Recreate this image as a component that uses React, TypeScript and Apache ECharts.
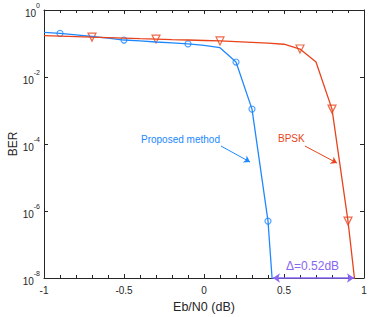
import React, { useEffect, useRef } from "react";
import * as echarts from "echarts";

const ebn0 = [-1, -0.9, -0.8, -0.7, -0.6, -0.5, -0.4, -0.3, -0.2, -0.1, 0, 0.1, 0.2, 0.3, 0.4, 0.5, 0.6, 0.7, 0.8, 0.9, 1.0];
const proposedBer = [0.215, 0.2, 0.182, 0.162, 0.144, 0.127, 0.119, 0.111, 0.104, 0.097, 0.088, 0.075, 0.028, 1.1e-3, 5e-7, 1e-13];
const bpskBer = [0.171, 0.166, 0.161, 0.155, 0.15, 0.145, 0.14, 0.136, 0.131, 0.127, 0.123, 0.119, 0.114, 0.108, 0.102, 0.095, 0.0685, 0.028, 1.1e-3, 5e-7, 3e-11];
const proposedMarkers = [-0.9, -0.5, -0.1, 0.2, 0.3, 0.4];
const bpskMarkers = [-0.7, -0.3, 0.1, 0.6, 0.8, 0.9];
const xTicks = [-1, -0.5, 0, 0.5, 1];
const deltaLabel = "Δ=0.52dB";
const gapStart = 0.431;
const gapEnd = 0.9375;

const BLUE = "#2088ff";
const RED = "#e8431c";
const PURPLE = "#8866f2";
const AX = "#262626";
const FONT = "Liberation Sans, Arial, sans-serif";

function pairs(xs: number[], ys: number[]) {
  return ys.map((y, i) => [xs[i], y]);
}
function markerPts(xs: number[], ys: number[], sel: number[]) {
  return xs
    .map((x, i) => [x, ys[i]])
    .filter((p) => p[1] !== undefined && sel.some((s) => Math.abs(s - p[0]) < 1e-9));
}
function expOf(v: number) {
  const e = Math.round(Math.log10(Number(v)));
  return e === 0 ? "0" : String(e);
}
const richStyles = {
  b: { fontSize: 10, fontFamily: FONT, color: AX, lineHeight: 12, padding: [6, 0, 0, 0] },
  s: { fontSize: 7, fontFamily: FONT, color: AX, lineHeight: 8, padding: [0, 0, 10, 0] },
};

export default function App() {
  const ref = useRef<HTMLDivElement>(null);
  useEffect(() => {
    const chart = echarts.init(ref.current!, null, { renderer: "svg" });
    const xBase = {
      type: "value" as const,
      min: -1,
      max: 1,
      interval: 0.5,
      axisLine: { show: true, onZero: false, lineStyle: { color: AX, width: 1 } },
      axisTick: { show: true, inside: true, length: 4, lineStyle: { color: AX } },
      minorTick: { show: true, splitNumber: 5, length: 3, lineStyle: { color: AX } },
      splitLine: { show: false },
    };
    const yBase = {
      type: "log" as const,
      logBase: 10,
      min: 1e-8,
      max: 1,
      interval: 2,
      axisLine: { show: true, onZero: false, lineStyle: { color: AX, width: 1 } },
      axisTick: { show: true, inside: true, length: 4, lineStyle: { color: AX } },
      minorTick: { show: false },
      splitLine: { show: false },
    };
    chart.setOption({
      animation: false,
      backgroundColor: "#ffffff",
      grid: { left: 44, right: 10, top: 10, bottom: 39, outerBoundsMode: "none", containLabel: false },
      xAxis: [
        {
          ...xBase,
          position: "bottom",
          name: "Eb/N0 (dB)",
          nameLocation: "middle",
          nameGap: 22,
          nameMoveOverlap: false,
          nameTextStyle: { color: AX, fontSize: 12.5, fontFamily: FONT },
          axisLabel: {
            color: AX,
            fontSize: 10,
            fontFamily: FONT,
            margin: 7,
            formatter: (v: number) => (xTicks.some((t) => Math.abs(t - v) < 1e-9) ? String(v) : ""),
          },
        },
        { ...xBase, position: "top", axisLabel: { show: false } },
      ],
      yAxis: [
        {
          ...yBase,
          position: "left",
          name: "BER",
          nameLocation: "middle",
          nameGap: 25,
          nameMoveOverlap: false,
          nameTextStyle: { color: AX, fontSize: 12, fontFamily: FONT },
          axisLabel: {
            color: AX,
            fontSize: 10,
            fontFamily: FONT,
            margin: 4,
            showMaxLabel: true,
            showMinLabel: true,
            formatter: (v: number) => `{b|10}{s|${expOf(v)}}\u200B`,
            rich: richStyles,
          },
        },
        { ...yBase, position: "right", axisLabel: { show: false } },
      ],
      series: [
        {
          type: "line",
          name: "Proposed method",
          data: pairs(ebn0, proposedBer),
          showSymbol: false,
          lineStyle: { color: BLUE, width: 1.3 },
          clip: true,
          silent: true,
          markLine: {
            silent: true,
            symbol: ["none", "arrow"],
            symbolSize: 6,
            label: { show: false },
            lineStyle: { color: BLUE, width: 1, type: "solid" },
            data: [[{ coord: [0.106, 8.7e-5] }, { coord: [0.2875, 2.9e-5] }]],
          },
        },
        {
          type: "scatter",
          data: markerPts(ebn0, proposedBer, proposedMarkers),
          symbol: "circle",
          symbolSize: 6,
          itemStyle: { color: "rgba(255,255,255,0)", borderColor: BLUE, borderWidth: 1.2 },
          silent: true,
        },
        {
          type: "line",
          name: "BPSK",
          data: pairs(ebn0, bpskBer),
          showSymbol: false,
          lineStyle: { color: RED, width: 1.3 },
          clip: true,
          silent: true,
          markLine: {
            silent: true,
            symbol: ["none", "arrow"],
            symbolSize: 6,
            label: { show: false },
            lineStyle: { color: RED, width: 1, type: "solid" },
            data: [[{ coord: [0.631, 8.7e-5] }, { coord: [0.831, 2.7e-5] }]],
          },
        },
        {
          type: "scatter",
          data: markerPts(ebn0, bpskBer, bpskMarkers),
          symbol: "triangle",
          symbolRotate: 180,
          symbolSize: 8,
          itemStyle: { color: "rgba(255,255,255,0)", borderColor: RED, borderWidth: 1.2 },
          silent: true,
        },
        {
          type: "line",
          data: [],
          silent: true,
          markLine: {
            silent: true,
            symbol: ["arrow", "arrow"],
            symbolSize: 7,
            label: { show: false },
            lineStyle: { color: PURPLE, width: 1.5, type: "solid" },
            data: [[{ coord: [gapStart, 1e-8] }, { coord: [gapEnd, 1e-8] }]],
          },
        },
      ],
      graphic: [
        { type: "text", left: 141, top: 134, style: { text: "Proposed method", fill: BLUE, fontSize: 10, fontFamily: FONT } },
        { type: "text", left: 278, top: 133, style: { text: "BPSK", fill: RED, fontSize: 10, fontFamily: FONT } },
        { type: "text", left: 286, top: 260, style: { text: deltaLabel, fill: PURPLE, fontSize: 12, fontFamily: FONT } },
      ],
    });
    return () => chart.dispose();
  }, []);
  return <div ref={ref} style={{ width: 374, height: 317, position: "absolute", left: 0, top: 0 }} />;
}
